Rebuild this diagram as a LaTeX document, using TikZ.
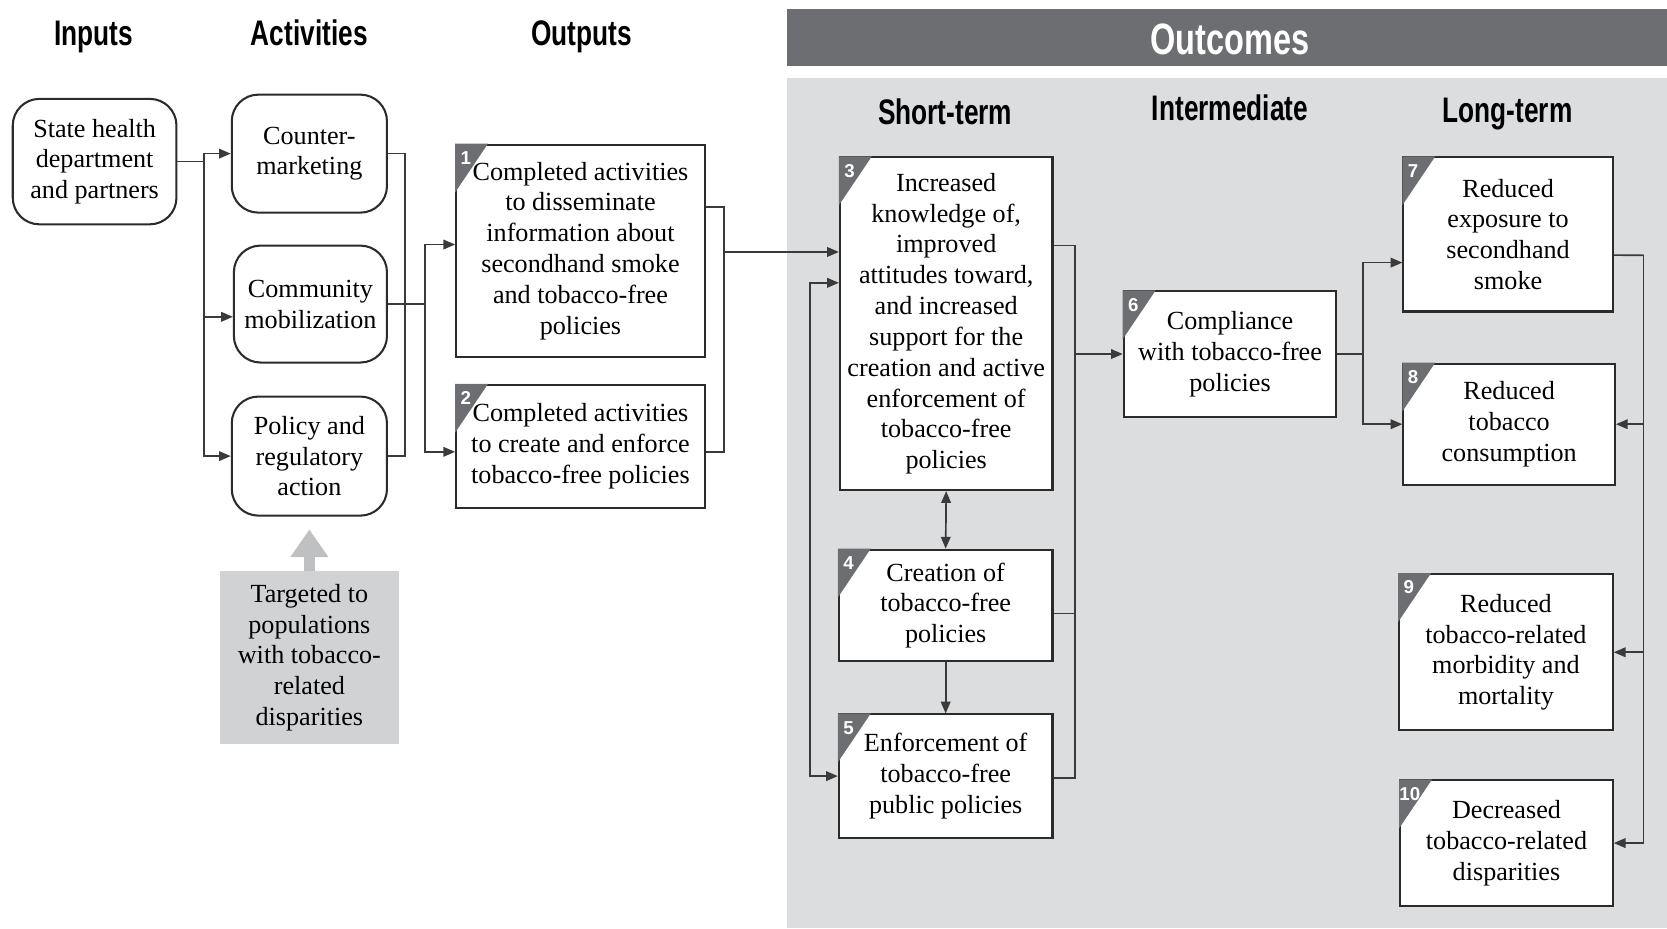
\documentclass[tikz,border=0pt]{standalone}
\usepackage{fontspec}
\setmainfont{Liberation Serif}
\newfontfamily\hdrfont[FakeStretch=0.74]{Liberation Sans}
\newfontfamily\tabfont{Liberation Sans}
\usetikzlibrary{arrows.meta,calc}
\definecolor{panel}{HTML}{DCDDDF}
\definecolor{bar}{HTML}{6D6E71}
\definecolor{tgfill}{HTML}{D1D2D4}
\definecolor{garrow}{HTML}{BFC0C2}
\definecolor{edge}{HTML}{2B2B2B}
\definecolor{conn}{HTML}{3A3A3A}
\tikzset{
  txt/.style={font=\fontsize{14}{16.5}\selectfont, align=center, inner sep=1pt},
  rbox/.style={txt, draw=edge, line width=1.1pt, fill=white, rounded corners=0.5cm},
  sbox/.style={txt, draw=edge, line width=1.1pt, fill=white},
  tgbox/.style={txt, fill=tgfill},
  hdr/.style={font=\hdrfont\bfseries\fontsize{19}{22}\selectfont, text=black, anchor=base},
  ln/.style={draw=conn, line width=0.9pt},
  arr/.style={ln, -{Triangle[length=2.2mm,width=1.8mm]}},
  darr/.style={ln, {Triangle[length=2.2mm,width=1.8mm]}-{Triangle[length=2.2mm,width=1.8mm]}},
  numtxt/.style={font=\tabfont\bfseries\fontsize{10}{10}\selectfont, text=white, inner sep=0pt}
}
\newcommand\numtab[2]{%
  \fill[bar] (#1.north west) -- ([xshift=0.62cm]#1.north west) -- ([yshift=-0.92cm]#1.north west) -- cycle;
  \node[numtxt] (#1n) at ([xshift=0.2cm,yshift=-0.27cm]#1.north west) {#2};}
\begin{document}
\begin{tikzpicture}[x=0.02cm,y=-0.02cm]
% canvas
\fill[white] (0,0) rectangle (1568,873);
\useasboundingbox (0,0) rectangle (1568,873);
\fill[bar] (740,8) rectangle (1568,62);
\fill[panel] (740,73) rectangle (1568,873);
% headers
\node[hdr] (hIn) at (88,43) {Inputs};
\node[hdr] (hAc) at (291,43) {Activities};
\node[hdr] (hOu) at (547,43) {Outputs};
\node[hdr, text=white, font=\hdrfont\bfseries\fontsize{23.5}{28}\selectfont] (hOc) at (1157,51) {Outcomes};
\node[hdr] (hSt) at (889,117) {Short-term};
\node[hdr] (hIm) at (1157,113) {Intermediate};
\node[hdr] (hLt) at (1418,115) {Long-term};
% inputs and activities
\node[rbox, minimum width=3.08cm, minimum height=2.36cm] (inp) at (89,152) {State health\\department\\and partners};
\node[rbox, minimum width=2.92cm, minimum height=2.22cm] (a1) at (291,144.5) {Counter-\\marketing};
\node[rbox, minimum width=2.88cm, minimum height=2.2cm] (a2) at (292,286) {Community\\mobilization};
\node[rbox, minimum width=2.92cm, minimum height=2.24cm] (a3) at (291,429) {Policy and\\regulatory\\action};
\node[tgbox, minimum width=3.36cm, minimum height=3.26cm] (tg) at (291,618.5) {Targeted to\\populations\\with tobacco-\\related\\disparities};
% outputs
\node[sbox, minimum width=4.68cm, minimum height=4.0cm] (b1) at (546,236) {Completed activities\\to disseminate\\information about\\secondhand smoke\\and tobacco-free\\policies};
\node[sbox, minimum width=4.68cm, minimum height=2.32cm] (b2) at (546,420) {Completed activities\\to create and enforce\\tobacco-free policies};
% outcomes
\node[sbox, minimum width=4.0cm, minimum height=6.26cm] (b3) at (890,304.5) {Increased\\knowledge of,\\improved\\attitudes toward,\\and increased\\support for the\\creation and active\\enforcement of\\tobacco-free\\policies};
\node[sbox, minimum width=4.02cm, minimum height=2.1cm] (b4) at (889.5,569.5) {Creation of\\tobacco-free\\policies};
\node[sbox, minimum width=4.02cm, minimum height=2.32cm] (b5) at (889.5,730) {Enforcement of\\tobacco-free\\public policies};
\node[sbox, minimum width=4.0cm, minimum height=2.36cm] (b6) at (1157,333) {Compliance\\with tobacco-free\\policies};
\node[sbox, minimum width=3.94cm, minimum height=2.9cm] (b7) at (1418.5,220.5) {Reduced\\exposure to\\secondhand\\smoke};
\node[sbox, minimum width=3.98cm, minimum height=2.28cm] (b8) at (1419.5,399) {Reduced\\tobacco\\consumption};
\node[sbox, minimum width=4.02cm, minimum height=2.94cm] (b9) at (1416.5,613.5) {Reduced\\tobacco-related\\morbidity and\\mortality};
\node[sbox, minimum width=4.0cm, minimum height=2.36cm] (b10) at (1417,793) {Decreased\\tobacco-related\\disparities};
% number tabs
\numtab{b1}{1}
\numtab{b2}{2}
\numtab{b3}{3}
\numtab{b4}{4}
\numtab{b5}{5}
\numtab{b6}{6}
\numtab{b7}{7}
\numtab{b8}{8}
\numtab{b9}{9}
\numtab{b10}{10}
% bus coordinates
\coordinate (bus1) at (192,152);
\coordinate (bus2) at (381,286);
\coordinate (bus3) at (400,286);
\coordinate (bus4) at (681,237);
\coordinate (bus5) at (1011,333);
\coordinate (lp) at (762,300);
\coordinate (bus6) at (1282,333);
\coordinate (bus7) at (1546,240);
\coordinate (b4o) at ([yshift=-0.15cm]b4.east);
% inputs -> activities
\draw[ln] (inp.east) -- (bus1);
\draw[arr] (bus1) |- (a1.west);
\draw[arr] (bus1) |- ([yshift=-0.24cm]a2.west);
\draw[arr] (bus1) |- (a3.west);
% activities -> outputs
\draw[ln] (a1.east) -- (a1.east -| bus2) |- (a3.east);
\draw[ln] (a2.east) -- (bus3);
\draw[arr] (bus3) |- ([yshift=0.12cm]b1.west);
\draw[arr] (bus3) |- ([yshift=-0.1cm]b2.west);
% outputs -> short-term
\draw[ln] ([yshift=0.82cm]b1.east) -| (bus4);
\draw[ln] ([yshift=-0.1cm]b2.east) -| (bus4);
\draw[arr] (bus4) -- (bus4 -| b3.west);
% short-term internal
\draw[darr] (b3.south) -- (b4.north);
\draw[arr] (b4.south) -- (b5.north);
\draw[darr] ([yshift=0.77cm]b3.west) -| (lp |- b5.west) -- (b5.west);
% short-term -> intermediate
\draw[ln] ([yshift=1.47cm]b3.east) -| (bus5);
\draw[ln] (b4o) -- (b4o -| bus5);
\draw[ln] ([yshift=-0.04cm]b5.east) -| (bus5);
\draw[arr] (bus5) -- (b6.west);
% intermediate -> long-term
\draw[ln] (b6.east) -- (bus6);
\draw[arr] (bus6) |- ([yshift=-0.53cm]b7.west);
\draw[arr] (bus6) |- (b8.west);
% long-term chain
\draw[ln] ([yshift=-0.39cm]b7.east) -- (bus7);
\draw[arr] (bus7) |- (b10.east);
\draw[arr] (bus7 |- b8.east) -- (b8.east);
\draw[arr] (bus7 |- b9.east) -- (b9.east);
% targeted arrow
\draw[draw=garrow, line width=0.2cm, -{Triangle[length=0.52cm,width=0.68cm]}, shorten >=0.24cm] (tg.north) -- (a3.south);
\end{tikzpicture}
\end{document}
